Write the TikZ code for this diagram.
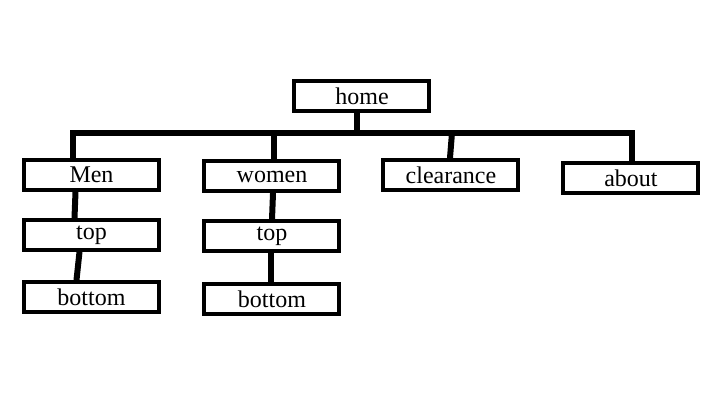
\documentclass[tikz,border=0pt]{standalone}
\usepackage{fontspec}
\setmainfont{Liberation Serif}
\usetikzlibrary{positioning}

\begin{document}
\begin{tikzpicture}[x=0.5pt,y=-0.5pt,node distance=13pt]
  \tikzstyle{page}=[draw=black,line width=2pt,minimum width=67.5pt,minimum height=15pt,inner sep=1pt,font=\fontsize{12}{14}\selectfont]
  \tikzstyle{link}=[draw=black,line width=3pt]
  \useasboundingbox[fill=white] (0,0) rectangle (720,400);

  % Pages
  \node[page] (home) at (362,96.5) {home};
  \node[page] (men) at (91.5,175) {Men};
  \node[page] (women) at (272,176.5) {women};
  \node[page] (clearance) at (451,175) {clearance};
  \node[page] (about) at (631,178) {about};
  \node[page] (mentop) [below=13pt of men] {top};
  \node[page] (menbottom) [below=14pt of mentop] {bottom};
  \node[page] (womentop) [below=13pt of women] {top};
  \node[page] (womenbottom) [below=14.5pt of womentop] {bottom};

  % Joints on the bar
  \coordinate (jm) at (73,133);
  \coordinate (jw) at (274,133);
  \coordinate (jc) at (452,133);
  \coordinate (ja) at (632,133);

  % Links
  \draw[link] (jm |- men.north) -- (jm) -- (ja) -- (ja |- about.north);
  \draw[link] (home.south -| 357,0) -- (357,133);
  \draw[link] (jw) -- (jw |- women.north);
  \draw[link] (jc) -- ([xshift=-1pt]jc |- clearance.north);
  \draw[link,line cap=round] ([xshift=-8pt]men.south) -- ([xshift=-8.5pt]mentop.north);  % Men -> top
  \draw[link,line cap=round] ([xshift=-6pt]mentop.south) -- ([xshift=-7.5pt]menbottom.north);
  \draw[link,line cap=round] ([xshift=0.5pt]women.south) -- (womentop.north);  % women -> top
  \draw[link,line cap=round] ([xshift=-0.5pt]womentop.south) -- ([xshift=-0.5pt]womenbottom.north);
\end{tikzpicture}
\end{document}
